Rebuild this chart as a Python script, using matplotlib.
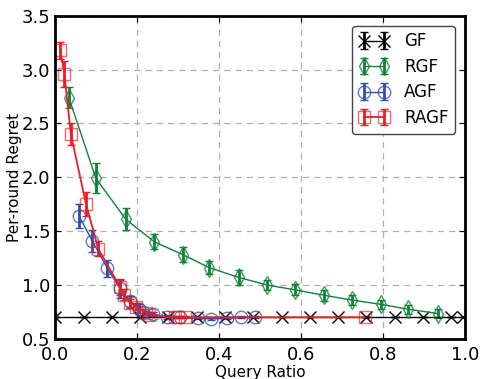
import numpy as np
import matplotlib
matplotlib.use("Agg")
import matplotlib.pyplot as plt
from matplotlib.colors import to_rgba

# query ratio / per-round regret
gf_x = [0.0, 0.069, 0.138, 0.207, 0.276, 0.345, 0.414, 0.483, 0.552,
        0.621, 0.690, 0.759, 0.828, 0.897, 0.966, 0.995]
gf_y = [0.70] * len(gf_x)
gf_err = [0.0] * len(gf_x)

rgf_x = [0.033, 0.099, 0.172, 0.242, 0.312, 0.376, 0.448, 0.516, 0.585,
         0.655, 0.724, 0.795, 0.861, 0.933]
rgf_y = [2.74, 1.99, 1.61, 1.40, 1.28, 1.16, 1.07, 1.00, 0.955,
         0.905, 0.86, 0.82, 0.775, 0.735]
rgf_err = [0.10, 0.14, 0.10, 0.07, 0.07, 0.06, 0.07, 0.05, 0.05,
           0.05, 0.045, 0.04, 0.04, 0.04]

agf_x = [0.058, 0.090, 0.127, 0.157, 0.182, 0.205, 0.215, 0.239, 0.272,
         0.304, 0.349, 0.381, 0.418, 0.452, 0.487]
agf_y = [1.64, 1.41, 1.155, 0.97, 0.85, 0.78, 0.75, 0.73, 0.70,
         0.70, 0.69, 0.685, 0.69, 0.70, 0.70]
agf_err = [0.11, 0.10, 0.08, 0.09, 0.05, 0.04, 0.03, 0.02, 0.02,
           0.01, 0.01, 0.01, 0.01, 0.01, 0.01]

ragf_x = [0.012, 0.022, 0.038, 0.075, 0.105, 0.158, 0.168, 0.183, 0.198,
          0.222, 0.228, 0.292, 0.300, 0.316, 0.755]
ragf_y = [3.18, 2.96, 2.40, 1.75, 1.335, 0.98, 0.91, 0.83, 0.80,
          0.74, 0.725, 0.70, 0.70, 0.70, 0.70]
ragf_err = [0.08, 0.12, 0.10, 0.11, 0.07, 0.07, 0.05, 0.04, 0.03,
            0.02, 0.02, 0.01, 0.01, 0.01, 0.0]

plt.rcParams["font.family"] = "DejaVu Sans"
plt.rcParams["xtick.direction"] = "in"
plt.rcParams["ytick.direction"] = "in"

fig = plt.figure(figsize=(4.83, 3.79), dpi=100)
ax = fig.add_axes([0.1145, 0.106, 0.8485, 0.8526])

series = [
    ("GF", gf_x, gf_y, gf_err, "black", "x", 9, 1.0, 1.0),
    ("RGF", rgf_x, rgf_y, rgf_err, "#11813a", "d", 9, 1.0, 0.8),
    ("AGF", agf_x, agf_y, agf_err, "#2f4fa8", "o", 9, 1.0, 0.75),
    ("RAGF", ragf_x, ragf_y, ragf_err, "#ee1c25", "s", 9, 1.3, 0.65),
]
for name, xs, ys, es, c, m, ms, lw, a in series:
    ax.errorbar(xs, ys, yerr=es, color=c, marker=m, ms=ms, lw=lw,
                mfc="none", mec=to_rgba(c, a), mew=1.0, elinewidth=2,
                capsize=3, capthick=1.5, label=name)

ax.set_xlim(0, 1.0)
ax.set_ylim(0.5, 3.5)
ax.set_xticks(np.arange(0, 1.01, 0.2))
ax.set_yticks(np.arange(0.5, 3.51, 0.5))
ax.tick_params(labelsize=13, length=4, top=True, right=True)
ax.tick_params(axis="x", pad=5)
ax.grid(True, color="#b0b0b0", linestyle=(0, (5, 4)), linewidth=0.9)
for s in ax.spines.values():
    s.set_linewidth(2)
ax.set_xlabel("Query Ratio", fontsize=11, labelpad=1)
ax.set_ylabel("Per-round Regret", fontsize=11, labelpad=0)

leg = ax.legend(loc="upper right", numpoints=2, fontsize=12, fancybox=True,
                framealpha=1, edgecolor="#444444", handlelength=1.8,
                borderaxespad=0.6, labelspacing=0.45, handletextpad=0.9)
leg.get_frame().set_linewidth(1.0)

fig.savefig("out.png", dpi=100, facecolor="white")
